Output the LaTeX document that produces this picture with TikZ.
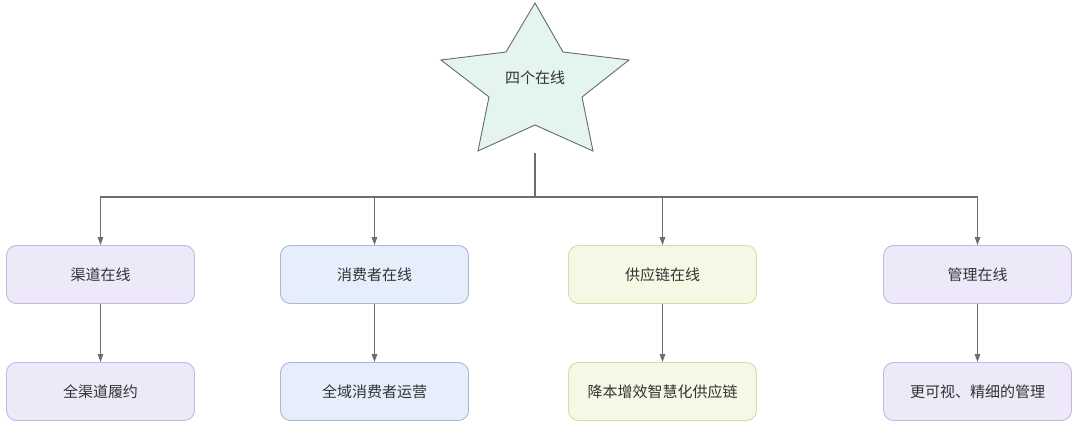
\documentclass[tikz,border=0pt]{standalone}
\usepackage{fontspec}
\setmainfont{Noto Sans CJK SC}
\usetikzlibrary{arrows.meta}
\definecolor{edge}{HTML}{6E6E6E}
\definecolor{txt}{HTML}{333333}
\definecolor{starfill}{HTML}{E3F4F1}
\definecolor{starline}{HTML}{6A6A6A}
\definecolor{lavfill}{HTML}{EEE9F9}
\definecolor{lavline}{HTML}{C3B8E2}
\definecolor{bluefill}{HTML}{E7EEFB}
\definecolor{blueline}{HTML}{A9B7D6}
\definecolor{greenfill}{HTML}{F5F8E4}
\definecolor{greenline}{HTML}{D3DDA4}
\tikzset{
  box/.style={draw, rounded corners=10pt, line width=0.9pt, minimum width=188pt,
    minimum height=58pt, inner sep=0pt, text=txt, font=\fontsize{15}{18}\selectfont},
  lav/.style={box, fill=lavfill, draw=lavline},
  blu/.style={box, fill=bluefill, draw=blueline},
  grn/.style={box, fill=greenfill, draw=greenline},
  conn/.style={draw=edge, line width=1.1pt},
  arr/.style={conn, -{Triangle[length=8pt,width=5.5pt]}},
}
\begin{document}
\begin{tikzpicture}[x=1pt,y=-1pt]
\useasboundingbox (0,0) rectangle (1080,423);
% star
\draw[fill=starfill, draw=starline, line width=0.9pt]
  (535,3) -- (563,52) -- (629,60) -- (582,97) -- (593,151) -- (535,125)
  -- (478,151) -- (489,97) -- (441,60) -- (506,52) -- cycle;
\node[text=txt, font=\fontsize{15}{18}\selectfont] (top) at (535,78) {四个在线};
\coordinate (starbase) at (535,153);
\coordinate (bus) at (535,197);
% row 1
\node[lav] (b1) at (100.5,274.5) {渠道在线};
\node[blu] (b2) at (374.5,274.5) {消费者在线};
\node[grn] (b3) at (662.5,274.5) {供应链在线};
\node[lav] (b4) at (977.5,274.5) {管理在线};
% row 2
\node[lav] (c1) at (100.5,391.5) {全渠道履约};
\node[blu] (c2) at (374.5,391.5) {全域消费者运营};
\node[grn] (c3) at (662.5,391.5) {降本增效智慧化供应链};
\node[lav] (c4) at (977.5,391.5) {更可视、精细的管理};
% connectors
\draw[conn] (starbase) -- (bus);
\draw[arr] (bus) -| (b1);
\draw[arr] (bus) -| (b2);
\draw[arr] (bus) -| (b3);
\draw[arr] (bus) -| (b4);
\draw[arr] (b1) -- (c1);
\draw[arr] (b2) -- (c2);
\draw[arr] (b3) -- (c3);
\draw[arr] (b4) -- (c4);
\end{tikzpicture}
\end{document}
